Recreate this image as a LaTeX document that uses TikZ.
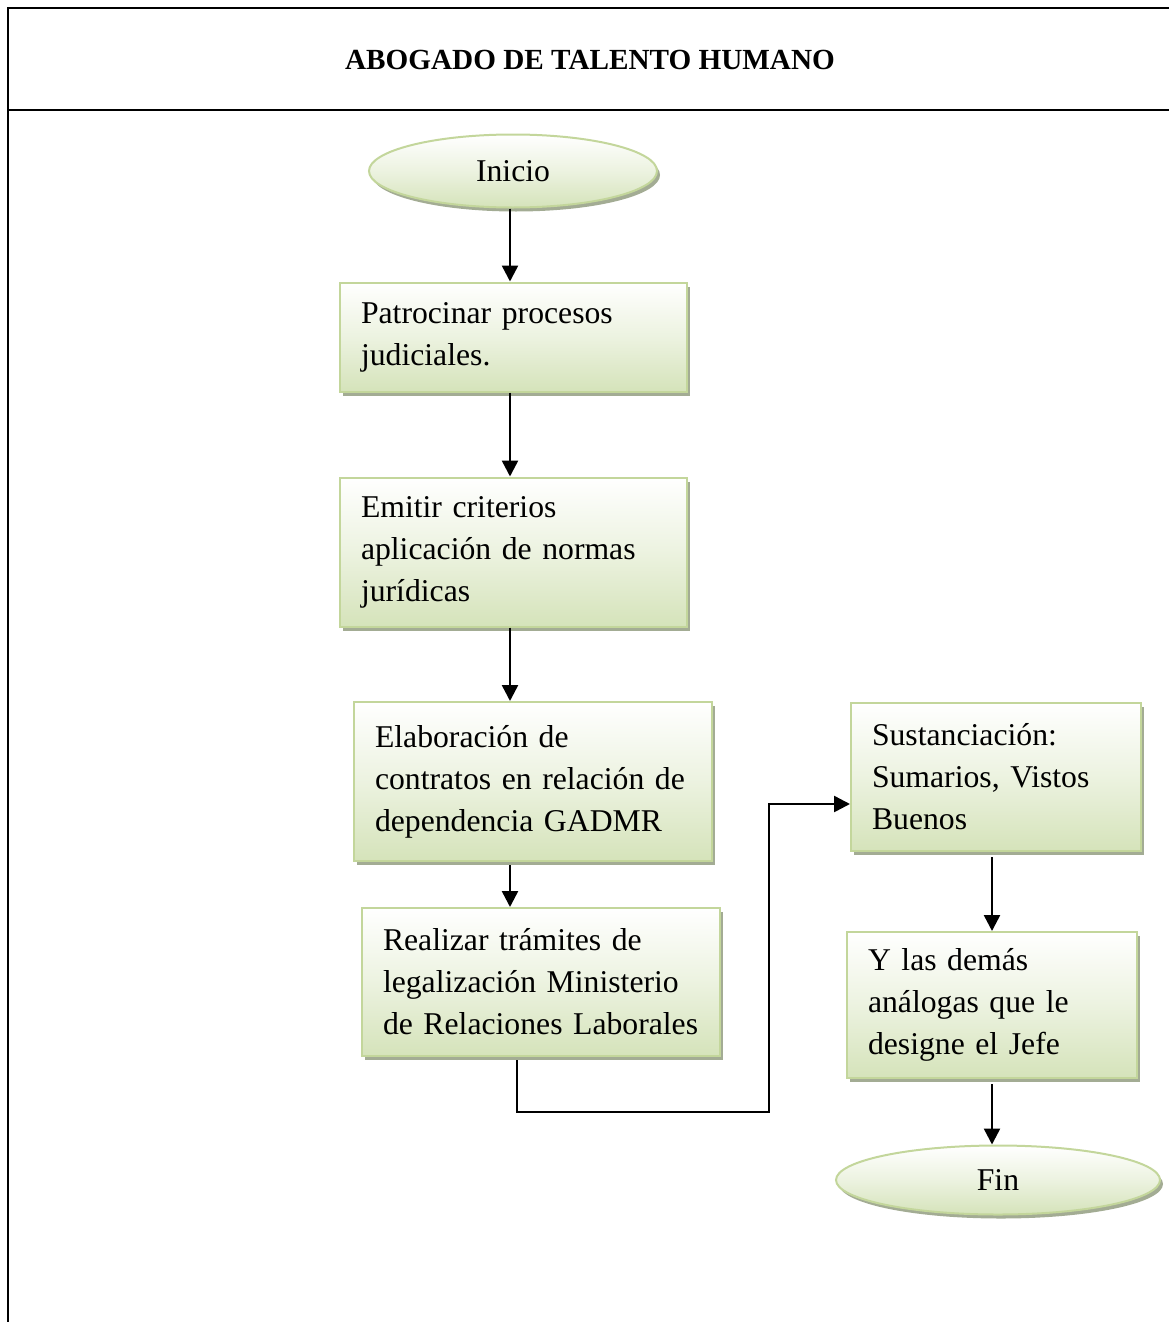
\documentclass[tikz,border=0pt]{standalone}
\usepackage{fontspec}
\setmainfont{Liberation Serif}
\usepackage{tikz}
\usetikzlibrary{positioning, shapes.geometric, shadows, arrows.meta}

\definecolor{verdeborde}{HTML}{C3D69B}
\definecolor{verdefondo}{HTML}{D5E3BA}
\definecolor{sombra}{HTML}{A3AC94}

\tikzset{
  paso/.style={rectangle, draw=verdeborde, line width=2pt,
    top color=white, bottom color=verdefondo, middle color=verdefondo!45,
    inner xsep=21pt, inner ysep=0pt, align=left,
    font=\fontsize{31.7}{42}\selectfont,
    drop shadow={shadow xshift=3pt, shadow yshift=-4pt, fill=sombra, opacity=1}},
  terminal/.style={ellipse, draw=verdeborde, line width=2pt,
    top color=white, bottom color=verdefondo, middle color=verdefondo!45,
    inner sep=0pt, font=\fontsize{31.7}{42}\selectfont,
    drop shadow={shadow xshift=3pt, shadow yshift=-4pt, fill=sombra, opacity=1}},
  flecha/.style={line width=2.5pt, -{Triangle[width=16pt,length=16pt]}},
  marco/.style={line width=2.5pt}
}

\begin{document}
\begin{tikzpicture}[x=1pt, y=-1pt]
  \useasboundingbox (0,0) rectangle (1169,1322);
  % marco y encabezado
  \draw[marco] (8,1322) -- (8,8) -- (1169,8);
  \draw[marco] (8,110) -- (1169,110);
  \node (titulo) at (590,60) {\fontsize{29.2}{34}\selectfont\bfseries ABOGADO DE TALENTO HUMANO};

  % columna izquierda
  \node[terminal, minimum width=288pt, minimum height=73pt] (inicio) at (513,171) {Inicio};
  \node[paso, minimum width=347pt, minimum height=109pt, text width=305pt] (patrocinar) at (513.5,337)
    {Patrocinar procesos\\judiciales.};
  \node[paso, minimum width=347pt, minimum height=149pt, text width=305pt] (emitir) at (513.5,552)
    {Emitir criterios\\aplicación de normas\\jurídicas};
  \node[paso, minimum width=358pt, minimum height=159pt, text width=316pt] (elaboracion) at (533,781.5)
    {Elaboración de\\contratos en relación de\\dependencia GADMR};
  \node[paso, minimum width=358pt, minimum height=148pt, text width=316pt] (realizar) at (541,982)
    {Realizar trámites de\\legalización Ministerio\\de Relaciones Laborales};

  % columna derecha
  \node[paso, minimum width=290pt, minimum height=148pt, text width=248pt] (sustanciacion) at (996,777)
    {Sustanciación:\\Sumarios, Vistos\\Buenos};
  \node[paso, minimum width=290pt, minimum height=146pt, text width=248pt] (demas) at (992,1005)
    {Y las demás\\análogas que le\\designe el Jefe};
  \node[terminal, minimum width=324pt, minimum height=69pt] (fin) at (998,1180) {Fin};

  \coordinate (codo) at (769,1112);

  % conectores
  \draw[flecha] (inicio.south -| 510,0) -- (patrocinar.north -| 510,0);
  \draw[flecha] (patrocinar.south -| 510,0) -- (emitir.north -| 510,0);
  \draw[flecha] (emitir.south -| 510,0) -- (elaboracion.north -| 510,0);
  \draw[flecha] ([yshift=-3pt]elaboracion.south -| 510,0) -- (realizar.north -| 510,0);
  \draw[flecha] ([yshift=-3pt]realizar.south -| 517,0) |- (codo) |- ([yshift=-27pt]sustanciacion.west);
  \draw[flecha] ([yshift=-5pt]sustanciacion.south -| demas.north) -- (demas.north);
  \draw[flecha] ([yshift=-5pt]demas.south) -- (fin.north -| demas.south);
\end{tikzpicture}
\end{document}
